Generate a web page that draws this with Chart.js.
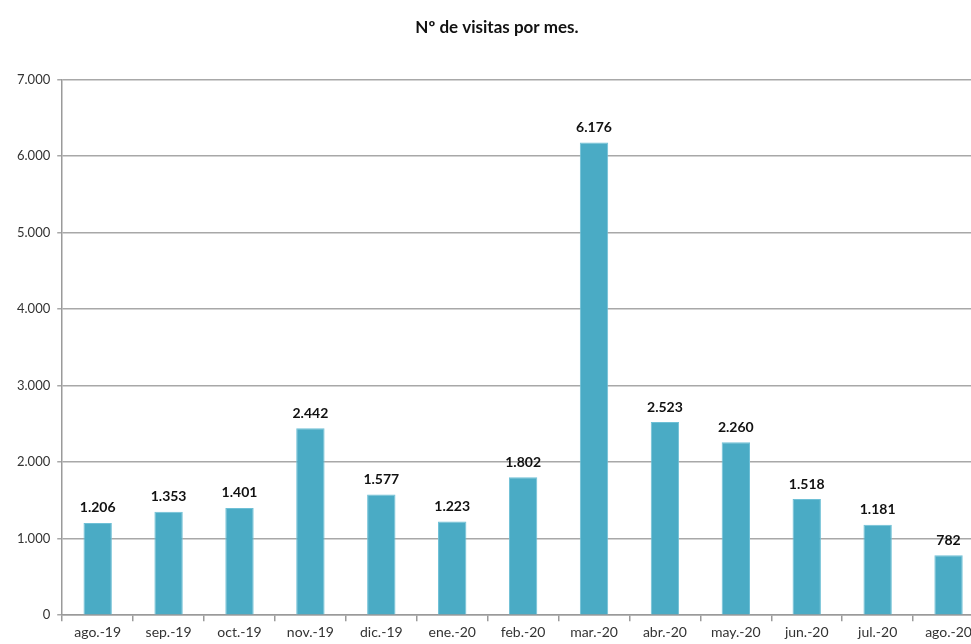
<!DOCTYPE html>
<html>
<head>
<meta charset="utf-8">
<script src="https://cdn.jsdelivr.net/npm/chart.js@4/dist/chart.umd.min.js"></script>
<style>
html,body{margin:0;padding:0;background:#fff;overflow:hidden;}
#wrap{position:relative;width:1045px;height:644px;}
</style>
</head>
<body>
<div id="wrap"><canvas id="c"></canvas></div>
<script>
const categories = ["ago.-19","sep.-19","oct.-19","nov.-19","dic.-19","ene.-20","feb.-20","mar.-20","abr.-20","may.-20","jun.-20","jul.-20","ago.-20"];
const visitas = [1206,1353,1401,2442,1577,1223,1802,6176,2523,2260,1518,1181,782];
const yTicks = [0,1000,2000,3000,4000,5000,6000,7000];
const titleText = "Nº de visitas por mes.";

const fmt = v => String(v).replace(/\B(?=(\d{3})+(?!\d))/g, ".");
const FONT = "Lato, 'Open Sans', sans-serif";

const labelPlugin = {
  id: 'valueLabels',
  afterDatasetsDraw(chart) {
    const ctx = chart.ctx;
    const meta = chart.getDatasetMeta(0);
    ctx.save();
    ctx.font = "bold 14px " + FONT;
    ctx.fillStyle = "#111";
    ctx.textAlign = "center";
    ctx.textBaseline = "bottom";
    meta.data.forEach((bar, i) => {
      ctx.fillText(fmt(visitas[i]), bar.x, bar.y - 8);
    });
    ctx.restore();
  }
};

new Chart(document.getElementById('c'), {
  type: 'bar',
  data: {
    labels: categories,
    datasets: [{
      data: visitas,
      backgroundColor: '#4AABC5',
      borderColor: '#6EC0D6',
      borderWidth: 1,
      barPercentage: 0.4,
      categoryPercentage: 1
    }]
  },
  options: {
    responsive: true,
    maintainAspectRatio: false,
    animation: false,
    layout: { padding: { left: 10, right: 61, top: 0, bottom: 0 } },
    plugins: {
      legend: { display: false },
      tooltip: { enabled: false },
      title: {
        display: true,
        text: titleText,
        color: '#111',
        font: { family: FONT, size: 17, weight: 'bold' },
        padding: { top: 17, bottom: 42 }
      }
    },
    scales: {
      x: {
        offset: true,
        grid: { offset: true, drawOnChartArea: false, drawTicks: true, tickLength: 6, color: '#9a9a9a', lineWidth: 1.5 },
        border: { display: true, color: '#9a9a9a', width: 1.5 },
        ticks: { color: '#333', font: { family: FONT, size: 14 }, padding: 3, maxRotation: 0, autoSkip: false }
      },
      y: {
        min: 0, max: 7000,
        afterBuildTicks: axis => { axis.ticks = yTicks.map(v => ({ value: v })); },
        grid: { color: '#a8a8a8', lineWidth: 1.5, drawTicks: true, tickLength: 5 },
        border: { display: true, color: '#9a9a9a', width: 1.5 },
        ticks: { color: '#333', font: { family: FONT, size: 13 }, padding: 7, callback: v => fmt(v) }
      }
    }
  },
  plugins: [labelPlugin]
});
</script>
</body>
</html>
